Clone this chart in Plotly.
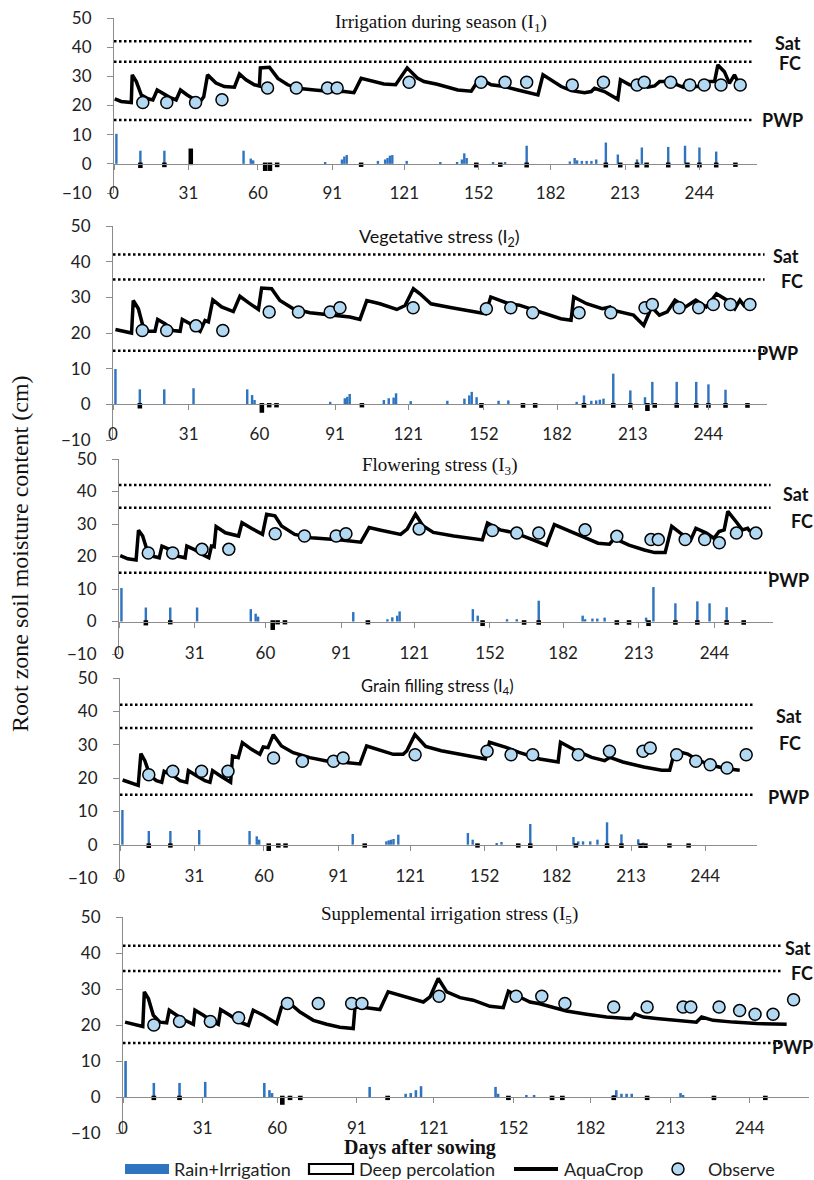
import plotly.graph_objects as go

# ---------------- data ----------------
DAY_TICKS = [0, 31, 60, 91, 121, 152, 182, 213, 244]
Y_TICKS = [-10, 0, 10, 20, 30, 40, 50]
SAT, FC, PWP = 42, 35, 15

TITLES = [
    "Irrigation during season (I<sub>1</sub>)",
    "Vegetative stress (I<sub>2</sub>)",
    "Flowering stress (I<sub>3</sub>)",
    "Grain filling stress (I<sub>4</sub>)",
    "Supplemental irrigation stress (I<sub>5</sub>)",
]
LEGEND_NAMES = ["Rain+Irrigation", "Deep percolation", "AquaCrop", "Observe"]

OBS_DAYS = [12, 22, 34, 45, 64, 76, 89, 93, 123, 153, 163, 172, 191, 204, 218, 221, 232, 240, 246, 253, 261]
OBS_I1 = [21, 21, 21, 22, 26, 26, 26, 26, 28, 28, 28, 28, 27, 28, 27, 28, 28, 27, 27, 27, 27]
OBS_I2 = [20.7, 20.7, 22, 20.7, 25.9, 25.9, 25.9, 27.1, 27.1, 26.8, 27.1, 25.7, 25.7, 25.7, 27.1, 28, 27.1, 27.1, 28, 28, 28]
OBS_I3 = [21.1, 21.1, 22.2, 22.2, 27, 26.3, 26.3, 27, 28.5, 28, 27.2, 27.2, 28.2, 26.2, 25.2, 25.2, 25.2, 25.2, 24.2, 27.2, 27.2]
OBS_I4 = [21, 22, 22, 22, 26, 25, 25, 26, 27, 28, 27, 27, 27, 28, 28, 29, 27, 25, 24, 23, 27]
OBS_I5 = [20, 21, 21, 22, 26, 26, 26, 26, 28, 28, 28, 26, 25, 25, 25, 25, 25, 24, 23, 23, 27]

AQUA_I1 = [(0.3, 22.3), (3, 21.4), (7.2, 21.0), (7.6, 30.5), (9.3, 28.2), (11.4, 23.6), (14.2, 22.3), (16.2, 21.9),
           (18, 25.3), (20.4, 24.0), (23.2, 22.8), (25.9, 21.9), (27.7, 25.3), (30.5, 23.6), (33.5, 21.9), (35.6, 21.0),
           (37.4, 23.0), (39, 30.5), (42.5, 27.7), (46, 26.5), (50.2, 26.3), (52.3, 30.8), (55, 28.8), (58.5, 27.1),
           (60.6, 26.7), (61, 32.9), (64.8, 33.1), (68.3, 29.3), (72.4, 27.1), (76.6, 25.9), (83.5, 25.3), (90.5, 24.8),
           (96, 24.8), (100, 24.4), (103, 29.3), (107, 28.5), (112.5, 27.4), (117.4, 27.1), (122.2, 32.9), (126.4, 29.4),
           (129.2, 28.2), (134.7, 27.3), (143.3, 25.3), (148.9, 24.9), (150.6, 27.3), (152.4, 29.3), (157.2, 27.1),
           (162.8, 26.5), (168.3, 25.3), (173.9, 24.2), (176.7, 23.6), (178.8, 30.5), (183, 28.2), (186.4, 26.5),
           (190.6, 25.1), (196.1, 24.4), (198.9, 24.8), (200.3, 25.9), (204.4, 24.8), (210, 22.1), (211.1, 28.8),
           (214.9, 27.1), (218.3, 26.7), (220, 27.9), (222.5, 26.3), (225.3, 26.7), (227.4, 28.2), (229.4, 28.2),
           (232.2, 29.0), (234.7, 27.1), (237.1, 26.3), (238.5, 28.2), (241.3, 26.5), (244.7, 26.5), (247.5, 28.2),
           (250.3, 28.2), (251.7, 33.9), (254.4, 31.6), (256.5, 27.6), (258.6, 30.5), (260.7, 27.1)]
AQUA_I2 = [(1, 21), (4, 20.5), (7.6, 20), (8.3, 29.1), (10.4, 26.8), (12.2, 22.1), (14.5, 20.5), (17.2, 20.5),
           (18.3, 23.8), (21.3, 22.6), (24.7, 20.7), (27.5, 20.5), (28.4, 23.8), (31.6, 22.6), (34.3, 21.2), (35.7, 20.5),
           (37.7, 23.5), (39.1, 23.1), (40.9, 29.3), (44.5, 27.3), (49.3, 26), (52, 30.3), (55.5, 28.5), (59.6, 26.6),
           (60.9, 32.6), (65, 32.4), (68.4, 29.1), (73.9, 26.8), (80.7, 25.7), (90.3, 24.9), (97.1, 24.5), (101.2, 23.8),
           (104, 29.1), (109.4, 28.2), (116.3, 26.6), (119.7, 27.7), (123.1, 32.4), (125.8, 31), (130.3, 28.2),
           (138.8, 27.1), (149.5, 25.9), (152.7, 25.4), (154.8, 30.1), (162.2, 28.2), (166.5, 27.8), (175, 25.9),
           (183.5, 24), (187.7, 23.6), (188.8, 30.1), (194.1, 28.2), (200.5, 26.8), (203.7, 27.3), (204.8, 26.4),
           (213.3, 25), (217.5, 22.1), (220.7, 27.3), (223.9, 25), (227.1, 25.9), (230.3, 29.2), (234.6, 27.3),
           (238.8, 29.2), (243.1, 27.3), (247.3, 31), (251.6, 29.2), (254.8, 26.8), (256.9, 29.2), (259, 27.3)]
AQUA_I3 = [(0.5, 20.3), (3.6, 19.3), (7, 18.9), (8, 28.1), (9.7, 26.3), (11.4, 22.2), (13.8, 20.1), (16.5, 19.6),
           (17.6, 23.2), (20.6, 22.2), (24, 20.1), (27.1, 19.6), (27.8, 23.2), (30.7, 22.2), (34.1, 20.6), (36.8, 19.6),
           (37.9, 23.2), (39, 23), (39.8, 29.2), (43.6, 27.3), (49, 26.3), (50.4, 30.4), (54.4, 28.6), (58.8, 26.8),
           (60.5, 33), (63.9, 32.5), (66.6, 29.4), (72, 26.8), (78.8, 25.8), (84.2, 25.6), (91, 25.1), (99.1, 24.4),
           (102.5, 28.9), (107.3, 28.1), (112.7, 27.1), (115.4, 26.8), (118.1, 28.4), (121.5, 33), (124.5, 29.5),
           (128.8, 27.4), (137.2, 26.3), (145.7, 25.6), (148.9, 25.1), (151, 30.3), (156.2, 28.2), (162.6, 27.2),
           (171, 24.6), (175.2, 23.5), (178.4, 29.8), (183.7, 28.2), (190, 26.1), (196.3, 24.1), (201, 23.8),
           (203, 25.6), (209, 23.5), (215.3, 22), (219.5, 21.2), (223.8, 21.2), (226.5, 29.3), (230.1, 27.2),
           (234.3, 25.1), (236.4, 28.7), (240.7, 27.2), (243.8, 25.6), (245.9, 27.7), (248, 28.2), (249.5, 33.9),
           (253.3, 30.3), (255.4, 28.2), (257.6, 28.7), (258.6, 27.7)]
AQUA_I4 = [(1.1, 19.4), (4.1, 18.7), (7.6, 17.8), (8.7, 27.3), (10.4, 25.1), (12.5, 20.7), (15.2, 19.2), (17.4, 18.7),
           (18.4, 22), (22.2, 20.7), (25, 19.2), (27.8, 18.7), (28.5, 22.2), (31.9, 20.7), (35.4, 19.2), (37.5, 18.7),
           (38.6, 22.2), (41.7, 20.7), (45.2, 19.2), (46.1, 18.7), (46.9, 26.6), (49.3, 26.1), (51, 30.6), (54.8, 28.6),
           (58.3, 27.1), (59.7, 29.3), (61.7, 29.1), (63.9, 33), (67.3, 29.6), (72.2, 27.6), (79.1, 26.1), (86.1, 25.1),
           (93, 24.7), (100, 24.2), (102.8, 29.6), (108.3, 28.3), (113.9, 27.1), (118, 27.1), (119.5, 28.1), (122.9, 33),
           (127.4, 29.5), (133.9, 28.2), (144.7, 26.7), (152.3, 25.7), (154, 30.7), (160.9, 29.2), (166.3, 27.7),
           (175, 25.7), (182.6, 24.8), (183.6, 30.7), (190.1, 28.2), (196.6, 26.2), (202, 25.2), (204.2, 26.2),
           (209.6, 24.8), (218.3, 23.3), (225.8, 22.3), (229.1, 22.3), (231.3, 28.2), (236.7, 27.2), (239.9, 25.7),
           (246.4, 23.8), (252.9, 22.8), (258.3, 22.3)]
AQUA_I5 = [(0.8, 20.8), (4, 20.2), (7.7, 19.6), (8.3, 29.2), (9.9, 27.3), (11.8, 22.7), (14.4, 20.8), (17, 20.6),
           (18, 24.1), (20.9, 22.7), (24.1, 21.3), (27.4, 20.2), (28, 24.1), (31.3, 22.7), (34.5, 21.1), (37.1, 20.2),
           (38, 24.3), (41.6, 22.7), (45.5, 20.8), (48.8, 19.9), (50.7, 24.1), (54.6, 22.7), (58.5, 20.8), (59.8, 20.4),
           (61.7, 25), (64.3, 26.4), (68.9, 23.6), (74.1, 21.3), (79.3, 20.2), (84.4, 19.4), (89.6, 19), (90.3, 25),
           (94.8, 24.8), (100, 24.3), (103.2, 29.2), (107.8, 28.2), (113, 27), (116.9, 26.4), (119.5, 27.8),
           (122.7, 32.9), (126, 29.2), (131.2, 27.6), (136.3, 26.9), (142.8, 25.2), (148, 24.8), (150, 29.4),
           (153.2, 28.2), (158.4, 26.4), (162.2, 25.9), (167.4, 24.8), (172.6, 23.9), (180.4, 23), (188.2, 22.2),
           (196, 21.8), (197.9, 21.8), (199.2, 23.1), (202.5, 22.2), (207.6, 21.8), (214.1, 21.3), (223.2, 20.8),
           (225.2, 22.2), (229.7, 21.3), (237.5, 20.8), (246.6, 20.4), (258.3, 20.2)]

RAIN_DAYS_I1 = [1, 11, 21, 32, 54, 57, 58, 88, 95, 96, 97, 110, 113, 114, 115, 116, 122, 136, 143, 145,
                146, 147, 158, 163, 172, 190, 192, 193, 195, 197, 199, 201, 205, 210, 218, 220, 231, 238, 244, 251]
RAIN_I1 = [10.3, 4.5, 4.5, 5, 4.5, 1.8, 1.2, 0.5, 1.5, 2.5, 3, 1, 1.5, 2, 2.8, 3, 1, 0.6, 0.6, 1.5,
           3.6, 2, 0.5, 0.5, 6.2, 0.8, 2, 1.2, 1, 1, 1, 1.5, 7.3, 3.2, 1.5, 5.6, 5.8, 6.2, 5.6, 4.2]
RAIN_DAYS_I2 = [1, 11, 21, 33, 55, 57, 58, 89, 95, 96, 97, 111, 113, 115, 116, 122, 137, 144, 146, 147,
                149, 158, 162, 190, 193, 196, 198, 199.5, 201, 205, 212, 218, 221, 231, 239, 244, 251]
RAIN_I2 = [9.9, 4.2, 4.2, 4.5, 4.2, 2.6, 1.2, 0.7, 1.7, 2.1, 2.9, 1.2, 1.7, 1.9, 3.1, 0.9, 1, 1.6, 2.5, 3.5,
           2, 1, 1.1, 0.7, 2.5, 1, 1.1, 1.3, 1.6, 8.6, 3.9, 2, 6.3, 6.3, 6.3, 5.6, 4.1]
RAIN_DAYS_I3 = [1, 11, 21, 32, 54, 56, 57, 96, 110, 112, 114, 115, 145, 147, 159, 163, 172, 190, 191, 194,
                196, 199, 216, 219, 228, 237, 242, 249]
RAIN_I3 = [10.3, 4.3, 4.3, 4.3, 3.8, 2.4, 1.5, 2.9, 0.7, 1.3, 1.8, 3.1, 3.8, 1.8, 0.7, 0.7, 6.4, 1.8, 0.7, 0.9,
           0.9, 1.2, 1.2, 10.6, 5.6, 6.2, 5.6, 4.4]
RAIN_DAYS_I4 = [1, 12, 21, 33, 54, 57, 58, 97, 111, 112, 113, 114, 116, 145, 147, 157, 159, 171, 189, 191,
                193, 196, 199, 203, 209, 216, 218]
RAIN_I4 = [10.4, 4.1, 4.1, 4.4, 4.1, 2.5, 1.5, 3.2, 1, 1.3, 1.5, 1.7, 3, 3.5, 1.5, 0.5, 0.8, 6.2, 2.3, 1,
           1, 1, 1.5, 6.7, 3.1, 1.6, 0.6]
RAIN_DAYS_I5 = [1, 12, 22, 32, 55, 57, 58, 96, 110, 112, 114, 116, 145, 146, 157, 160, 191, 192, 194, 196,
                198, 217, 218]
RAIN_I5 = [10, 3.9, 3.9, 4.2, 3.9, 1.9, 1.1, 2.8, 0.9, 1.1, 1.9, 3, 2.8, 0.9, 0.5, 0.5, 0.5, 1.9, 0.9, 0.9,
           0.9, 1.1, 0.5]

DP_DAYS_I1 = [11, 21, 32, 63, 65, 68, 103, 151, 161, 172, 205, 211, 218, 222, 231, 239, 244, 251, 259]
DP_I1 = [-1, -0.7, 4.8, -2, -2, -0.7, -0.6, -0.8, -0.6, -0.8, -0.8, -0.8, -0.8, -0.8, -0.8, -0.8, -0.8, -0.8, -0.6]
DP_DAYS_I2 = [11, 61, 64, 67, 102, 151, 168, 173, 193, 205, 212, 219, 222, 231, 239, 244, 251, 260]
DP_I2 = [-0.8, -2, -0.5, -0.5, -0.5, -0.6, -0.6, -0.6, -0.6, -0.6, -0.6, -1.5, -0.6, -0.6, -0.6, -0.6, -0.6, -0.6]
DP_DAYS_I3 = [11, 21, 63, 65, 68, 102, 149, 166, 172, 204, 209, 217, 228, 237, 249, 256]
DP_I3 = [-0.8, -0.5, -2.2, -0.5, -0.5, -0.5, -1, -0.6, -0.6, -0.6, -0.6, -1, -0.6, -0.6, -0.6, -0.6]
DP_DAYS_I4 = [12, 21, 62, 66, 69, 102, 149, 166, 171, 190, 203, 209, 217, 219, 229, 237]
DP_I4 = [-0.6, -0.5, -1.5, -0.5, -0.5, -0.5, -0.5, -0.5, -0.6, -0.5, -0.6, -0.6, -0.6, -0.6, -0.5, -0.5]
DP_DAYS_I5 = [12, 22, 62, 65, 69, 103, 150, 167, 171, 191, 204, 230, 250]
DP_I5 = [-0.5, -0.5, -1.8, -0.5, -0.5, -0.5, -0.5, -0.5, -0.5, -0.5, -0.5, -0.5, -0.5]

LIMIT_END = [266, 267, 267, 264, 256]   # day where the Sat/FC/PWP reference lines end

AQUA = [AQUA_I1, AQUA_I2, AQUA_I3, AQUA_I4, AQUA_I5]
OBS = [OBS_I1, OBS_I2, OBS_I3, OBS_I4, OBS_I5]
RAIN_DAYS = [RAIN_DAYS_I1, RAIN_DAYS_I2, RAIN_DAYS_I3, RAIN_DAYS_I4, RAIN_DAYS_I5]
RAIN = [RAIN_I1, RAIN_I2, RAIN_I3, RAIN_I4, RAIN_I5]
DP_DAYS = [DP_DAYS_I1, DP_DAYS_I2, DP_DAYS_I3, DP_DAYS_I4, DP_DAYS_I5]
DP = [DP_I1, DP_I2, DP_I3, DP_I4, DP_I5]

# ---------------- layout / style ----------------
W, H = 814, 1180
# left, right, top(50), bottom(-10) in px, x max in days, x tick-label centre (px)
GEOM = [
    (114, 757, 18, 193, 268, 192),
    (113, 767, 226, 440, 268, 433),
    (119, 773, 459, 654, 268, 652),
    (120, 757, 678, 878, 265.5, 875),
    (123, 809, 917, 1133, 267, 1127),
]
TITLE_POS = [(441, 23, "serif", 19), (439, 237, "sans", 18), (439, 466, "serif", 19),
             (437, 686, "sans", 16.5), (449, 915, "serif", 19)]
# left edges of the Sat / FC / PWP labels (px)
LABEL_POS = [
    [(773, 43), (777, 63), (760, 120)],
    [(771, 256), (779, 281), (755, 353)],
    [(781, 494), (789, 521), (766, 580)],
    [(774, 716), (777, 743), (766, 797)],
    [(783, 948), (789, 973), (770, 1047)],
]
# hand-drawn legend: symbol x0, x1, text left (px); row centre y
LEG_ITEMS = [(125, 169, 172), (309, 353, 357), (514, 558, 562), (672, 684, 706)]
LEG_Y = 1169

SANS = "Lato, 'Open Sans', sans-serif"
SERIF = "'Liberation Serif', 'Times New Roman', serif"
GRAY = "#8c8c8c"
BLUE = "#2e74c0"
OBS_FILL = "#b3d8f2"


def px(x):
    return x / W


def py(y):
    return 1 - y / H


fig = go.Figure()
layout = dict(
    width=W, height=H, margin=dict(l=0, r=0, t=0, b=0, pad=0, autoexpand=False), autosize=False,
    paper_bgcolor="white", plot_bgcolor="white", barmode="overlay", showlegend=False,
)
annotations = []
shapes = []

for k in range(5):
    i = k + 1
    j = k + 6
    xa = "x" if i == 1 else f"x{i}"
    ya = "y" if i == 1 else f"y{i}"
    xl = f"x{j}"
    left, right, top, bottom, xmax, lab_c = GEOM[k]
    xdom = [px(left), px(right)]
    ydom = [py(bottom), py(top)]
    y0_px = bottom - (bottom - top) / 6.0

    fig.add_trace(go.Bar(x=RAIN_DAYS[k], y=RAIN[k], width=1.0, name=LEGEND_NAMES[0],
                         marker=dict(color=BLUE, line=dict(width=0)),
                         xaxis=xa, yaxis=ya, hoverinfo="x+y"))
    fig.add_trace(go.Bar(x=DP_DAYS[k], y=DP[k], width=0.8, name=LEGEND_NAMES[1],
                         marker=dict(color="white", line=dict(color="black", width=2.6)),
                         xaxis=xa, yaxis=ya, hoverinfo="x+y"))
    for val in (SAT, FC, PWP):
        fig.add_trace(go.Scatter(x=[0, LIMIT_END[k]], y=[val, val], mode="lines",
                                 line=dict(color="black", width=2.5, dash="2.5px,2.5px"),
                                 hoverinfo="skip", xaxis=xa, yaxis=ya))
    fig.add_trace(go.Scatter(x=[d for d, v in AQUA[k]], y=[v for d, v in AQUA[k]], mode="lines",
                             name=LEGEND_NAMES[2], line=dict(color="black", width=3.5),
                             xaxis=xa, yaxis=ya))
    fig.add_trace(go.Scatter(x=OBS_DAYS, y=OBS[k], mode="markers", name=LEGEND_NAMES[3],
                             marker=dict(size=12, color=OBS_FILL, line=dict(color="black", width=1.5)),
                             xaxis=xa, yaxis=ya))
    # invisible trace for the tick-label axis
    fig.add_trace(go.Scatter(x=[None], y=[None], hoverinfo="skip", xaxis=xl, yaxis=ya))

    xkey = "xaxis" if i == 1 else f"xaxis{i}"
    ykey = "yaxis" if i == 1 else f"yaxis{i}"
    layout[xkey] = dict(domain=xdom, range=[0, xmax], anchor="free", position=py(y0_px),
                        showline=True, linecolor=GRAY, linewidth=1, ticks="outside", ticklen=5,
                        tickcolor=GRAY, tickvals=DAY_TICKS, showticklabels=False, automargin=False,
                        showgrid=False, zeroline=False, fixedrange=True)
    layout[f"xaxis{j}"] = dict(domain=xdom, range=[0, xmax], overlaying=xa, anchor="free",
                               position=py(lab_c - 11), showline=False, ticks="",
                               tickvals=DAY_TICKS, ticktext=[str(t) for t in DAY_TICKS],
                               tickfont=dict(family=SANS, size=17, color="#222"), automargin=False,
                               showgrid=False, zeroline=False, fixedrange=True)
    layout[ykey] = dict(domain=ydom, range=[-10, 50], anchor=xa, tickvals=Y_TICKS,
                        showline=True, linecolor=GRAY, linewidth=1, ticks="outside", ticklen=6,
                        tickcolor=GRAY, tickfont=dict(family=SANS, size=17, color="#222"),
                        ticklabelstandoff=12, automargin=False,
                        showgrid=False, zeroline=False, fixedrange=True)

    tx, ty, fam, fs = TITLE_POS[k]
    tfont = dict(family=SERIF if fam == "serif" else SANS, size=fs, color="#111")
    annotations.append(dict(text=TITLES[k], x=px(tx), y=py(ty), xref="paper", yref="paper",
                            showarrow=False, xanchor="center", yanchor="middle", font=tfont))
    for name, (lx, ly) in zip(("Sat", "FC", "PWP"), LABEL_POS[k]):
        annotations.append(dict(text=f"<b>{name}</b>", x=px(lx), y=py(ly), xref="paper", yref="paper",
                                showarrow=False, xanchor="left", yanchor="middle",
                                font=dict(family=SANS, size=18, color="#111")))

annotations.append(dict(text="Root zone soil moisture content (cm)", x=px(20), y=py(554),
                        xref="paper", yref="paper", showarrow=False, textangle=-90,
                        xanchor="center", yanchor="middle",
                        font=dict(family=SERIF, size=24, color="#111")))
annotations.append(dict(text="<b>Days after sowing</b>", x=px(420), y=py(1147),
                        xref="paper", yref="paper", showarrow=False,
                        xanchor="center", yanchor="middle",
                        font=dict(family=SERIF, size=20, color="#111")))

# legend (drawn by hand to match the wide Excel-style keys)
(b0, b1, bt), (d0, d1, dt), (l0, l1, lt), (c0, c1, ct) = LEG_ITEMS
shapes.append(dict(type="rect", xref="paper", yref="paper", x0=px(b0), x1=px(b1),
                   y0=py(LEG_Y + 5), y1=py(LEG_Y - 5), fillcolor=BLUE, line=dict(width=0)))
shapes.append(dict(type="rect", xref="paper", yref="paper", x0=px(d0), x1=px(d1),
                   y0=py(LEG_Y + 5), y1=py(LEG_Y - 5), fillcolor="white",
                   line=dict(color="black", width=2.2)))
shapes.append(dict(type="line", xref="paper", yref="paper", x0=px(l0), x1=px(l1),
                   y0=py(LEG_Y), y1=py(LEG_Y), line=dict(color="black", width=4)))
shapes.append(dict(type="circle", xref="paper", yref="paper", x0=px(c0), x1=px(c1),
                   y0=py(LEG_Y + 6), y1=py(LEG_Y - 6), fillcolor=OBS_FILL,
                   line=dict(color="black", width=1.5)))
for name, tx in zip(LEGEND_NAMES, (bt, dt, lt, ct)):
    annotations.append(dict(text=name, x=px(tx), y=py(LEG_Y), xref="paper", yref="paper",
                            showarrow=False, xanchor="left", yanchor="middle",
                            font=dict(family=SANS, size=18, color="#222")))

layout["annotations"] = annotations
layout["shapes"] = shapes
fig.update_layout(**layout)
fig.write_html("out.html", config={"displayModeBar": False},
               post_script="document.body.style.margin='0';document.body.style.padding='0';")
